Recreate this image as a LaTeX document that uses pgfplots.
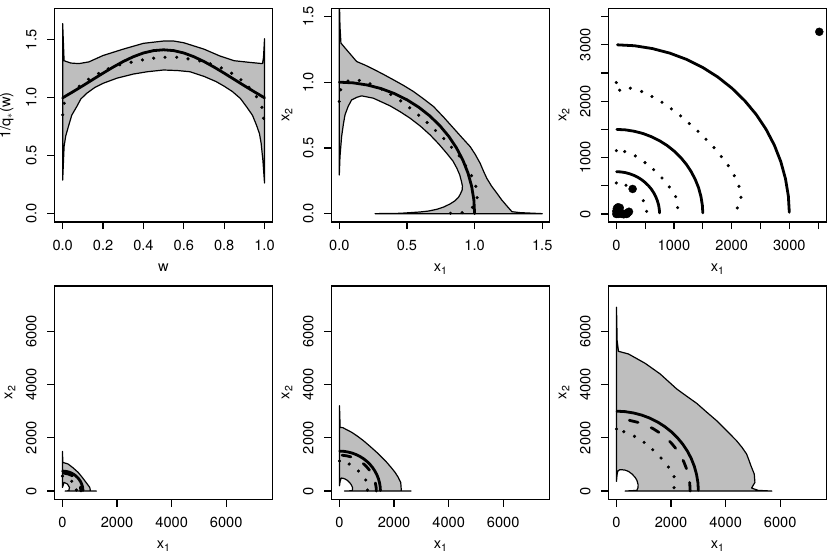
\documentclass[border=0pt]{standalone}
\usepackage{fontspec}
\setmainfont{TeX Gyre Heros}
\usepackage{pgfplots}
\pgfplotsset{compat=1.18}
\usepackage{pgfplotstable}

\definecolor{regiongray}{gray}{0.745}
\newcommand{\rfont}{\fontsize{14.6}{16}\selectfont}
\newcommand{\xone}{x\raisebox{-3pt}{\fontsize{10.5}{10}\selectfont 1}}
\newcommand{\xtwo}{x\raisebox{-3pt}{\fontsize{10.5}{10}\selectfont 2}}

\pgfplotstableread{
x y
3000 30
2984 314
2934 624
2853 927
2741 1220
2598 1500
2427 1763
2229 2007
2007 2229
1763 2427
1500 2598
1220 2741
927 2853
624 2934
314 2984
20 3000
}\arcA
\pgfplotstableread{
x y
1500 20
1492 157
1467 312
1427 464
1370 610
1299 750
1214 882
1115 1004
1004 1115
882 1214
750 1299
610 1370
464 1427
312 1467
157 1492
10 1500
}\arcB
\pgfplotstableread{
x y
750 20
746 78
734 156
713 232
685 305
650 375
607 441
557 502
502 557
441 607
375 650
305 685
232 713
156 734
78 746
5 750
}\arcC

\pgfplotsset{
  rbox/.style={
    scale only axis, width=218.3pt, height=213.2pt, anchor=south west,
    axis line style={line width=1.2pt},
    tick style={line width=1.2pt,black},
    tick align=outside, major tick length=7.2pt,
    xtick pos=bottom, ytick pos=left,
    xticklabel style={font=\rfont,yshift=-7.5pt},
    yticklabel style={font=\rfont,rotate=90,anchor=south,yshift=7pt},
    xlabel style={font=\rfont,at={(axis description cs:0.5,0)},anchor=base,yshift=-49pt},
    ylabel style={font=\rfont,at={(axis description cs:0,0.5)},anchor=base,yshift=42pt},
    xlabel=\xone, ylabel=\xtwo,
  },
  bigbox/.style={
    rbox, xmin=-300, xmax=7700, ymin=-310, ymax=7700,
    xtick={0,2000,4000,6000}, ytick={0,2000,4000,6000},
    xticklabels={0,2000,4000,6000}, yticklabels={0,2000,4000,6000},
  },
  region/.style={fill=regiongray, draw=black, line width=1.2pt, line join=round},
  thickline/.style={black, line width=2.8pt, line cap=round},
  dashline/.style={black, line width=2.8pt, line cap=round, dash pattern=on 9pt off 14.2pt},
  dots/.style={only marks, mark=*, mark size=1.4pt, black},
}

\begin{document}
\begin{tikzpicture}[x=1pt,y=1pt]
\useasboundingbox (0,0) rectangle (830,-554);

% w panel
\begin{axis}[rbox, at={(54.3pt,-222pt)},
  xmin=-0.0415, xmax=1.04, ymin=-0.0717, ymax=1.768,
  xtick={0,0.2,0.4,0.6,0.8,1}, xticklabels={0.0,0.2,0.4,0.6,0.8,1.0},
  ytick={0,0.5,1,1.5}, yticklabels={0.0,0.5,1.0,1.5},
  ylabel style={yshift=2pt},
  xlabel={w}, ylabel={1/q$_*$(w)}]
\addplot[region] coordinates {
(0,1.64)(0.003,1.5)(0.007,1.32)(0.04,1.30)(0.08,1.295)(0.13,1.31)(0.2,1.365)(0.3,1.42)(0.4,1.47)
(0.5,1.49)(0.55,1.49)(0.6,1.475)(0.7,1.42)(0.78,1.36)(0.85,1.32)(0.93,1.305)(0.99,1.295)(0.995,1.35)(1,1.51)
(1,0.265)(0.992,0.46)(0.983,0.61)(0.975,0.69)(0.96,0.765)(0.94,0.85)(0.91,0.925)(0.88,0.995)(0.84,1.055)(0.8,1.10)(0.76,1.14)(0.7,1.185)(0.63,1.225)(0.57,1.235)(0.5,1.24)
(0.42,1.225)(0.35,1.205)(0.27,1.17)(0.2,1.125)(0.16,1.09)(0.12,1.04)(0.09,0.99)(0.07,0.925)(0.045,0.85)(0.028,0.75)(0.015,0.67)(0.007,0.58)(0,0.29)} -- cycle;
\addplot[thickline] coordinates {
(0,1)(0.05,1.0512)(0.1,1.1043)(0.15,1.1586)(0.2,1.2127)(0.25,1.2649)(0.3,1.3131)(0.35,1.3545)(0.4,1.3868)(0.45,1.4072)
(0.5,1.4142)(0.55,1.4072)(0.6,1.3868)(0.65,1.3545)(0.7,1.3131)(0.75,1.2649)(0.8,1.2127)(0.85,1.1586)(0.9,1.1043)(0.95,1.0512)(1,1)};
\addplot[dots] coordinates {
(0,0.853)(0.008,0.953)(0.082,1.10)(0.128,1.16)(0.178,1.21)(0.226,1.25)(0.283,1.285)(0.339,1.307)(0.395,1.327)(0.451,1.342)
(0.507,1.35)(0.565,1.35)(0.621,1.336)(0.679,1.319)(0.731,1.293)(0.786,1.258)(0.837,1.212)(0.883,1.155)(0.923,1.091)(0.96,1.01)(0.987,0.918)(0.995,0.823)};
\end{axis}

% unit scale panel
\begin{axis}[rbox, at={(331.3pt,-222pt)},
  xmin=-0.0592, xmax=1.5543, ymin=-0.0635, ymax=1.558,
  xtick={0,0.5,1,1.5}, xticklabels={0.0,0.5,1.0,1.5},
  ytick={0,0.5,1,1.5}, yticklabels={0.0,0.5,1.0,1.5}]
\addplot[region] coordinates {
(0,1.64)(0.005,1.424)(0.012,1.297)(0.054,1.246)(0.128,1.157)(0.19,1.13)(0.25,1.10)(0.325,1.06)(0.4,1.018)(0.475,0.975)(0.548,0.929)(0.62,0.875)(0.696,0.815)(0.77,0.735)(0.844,0.65)(0.905,0.58)
(0.967,0.51)(1.005,0.45)(1.041,0.383)(1.065,0.325)(1.09,0.269)(1.125,0.21)(1.165,0.155)(1.2,0.105)(1.239,0.058)(1.276,0.015)(1.337,0.0076)(1.5,0)
(0.264,0)(0.449,0.0025)(0.597,0.0127)(0.66,0.02)(0.72,0.033)(0.77,0.05)(0.819,0.074)(0.855,0.098)(0.881,0.124)(0.895,0.15)(0.908,0.18)(0.91,0.21)(0.903,0.244)(0.89,0.295)(0.869,0.345)(0.84,0.40)(0.794,0.459)
(0.735,0.53)(0.671,0.599)(0.6,0.665)(0.523,0.726)(0.45,0.775)(0.375,0.82)(0.252,0.878)(0.165,0.896)(0.13,0.885)(0.091,0.865)(0.065,0.815)(0.042,0.751)(0.03,0.68)(0.017,0.586)(0.005,0.434)(0,0.294)} -- cycle;
\addplot[thickline] coordinates {
(1,0)(0.9945,0.1045)(0.9781,0.2079)(0.9511,0.3090)(0.9135,0.4067)(0.8660,0.5)(0.8090,0.5878)(0.7431,0.6691)(0.6691,0.7431)
(0.5878,0.8090)(0.5,0.8660)(0.4067,0.9135)(0.3090,0.9511)(0.2079,0.9781)(0.1045,0.9945)(0,1)};
\addplot[dots] coordinates {
(0,0.853)(0.01,0.942)(0.064,1.008)(0.148,1.013)(0.227,0.987)(0.313,0.947)(0.38,0.906)(0.454,0.858)(0.52,0.805)(0.587,0.749)
(0.649,0.693)(0.711,0.632)(0.772,0.571)(0.829,0.505)(0.886,0.439)(0.933,0.365)(0.977,0.289)(1.009,0.208)(1.019,0.122)(0.984,0.048)(0.908,0.008)(0.822,0.003)};
\end{axis}

% data points panel
\begin{axis}[rbox, at={(608.3pt,-222pt)},
  xmin=-139, xmax=3647, ymin=-142, ymax=3639,
  xtick={0,500,1000,1500,2000,2500,3000,3500}, xticklabels={0,,1000,,2000,,3000,},
  ytick={0,500,1000,1500,2000,2500,3000,3500}, yticklabels={0,,1000,,2000,,3000,}]
\addplot[thickline] table {\arcA};
\addplot[thickline] table {\arcB};
\addplot[thickline] table {\arcC};
\addplot[dots] coordinates {
(0,2331)(58,2195)(243,2231)(439,2172)(618,2083)(792,1982)(954,1864)(1116,1740)(1266,1604)(1416,1467)
(1555,1325)(1694,1178)(1821,1018)(1942,858)(2046,680)(2127,491)(2162,296)(2098,107)};
\addplot[dots] coordinates {
(0,1124)(145,1107)(329,1030)(497,911)(647,787)(792,639)(919,479)(1029,308)(1063,112)};
\addplot[dots] coordinates {(0,550)(168,509)(468,237)(526,47)};
\addplot[only marks, mark=*, mark size=4pt, black] coordinates {
(3520,3231)(283,444)(0,0)(0,50)(10,100)(30,120)(60,110)(60,50)(70,20)(100,0)(130,-5)(170,10)(200,20)(220,40)(180,0)(30,0)(60,10)};
\end{axis}

% bottom row
\begin{axis}[bigbox, at={(54.3pt,-499.3pt)}]
\addplot[region] coordinates {
(0,1491)(12,1078)(207,1015)(390,870)(573,702)(700,545)(817,388)(910,260)(1000,138)(1024,0)(1244,0)
(98,0)(232,12)(256,138)(183,263)(61,326)(0,138)} -- cycle;
\addplot[thickline] table {\arcC};
\addplot[dashline] coordinates {(47,673)(209,642)(338,585)(452,502)(546,397)(617,275)(660,140)(675,0)};
\addplot[dots] coordinates {(0,560)(340,370)(510,40)};
\end{axis}

\begin{axis}[bigbox, at={(331.3pt,-499.3pt)}]
\addplot[region] coordinates {
(0,3208)(24,2393)(122,2381)(451,2205)(660,2060)(878,1892)(1120,1680)(1366,1454)(1550,1270)(1732,1078)(1890,890)(2037,702)(2150,520)(2244,326)(2268,0)(2622,0)
(183,0)(463,12)(480,70)(476,138)(430,240)(366,326)(290,400)(207,451)(130,480)(61,489)(20,350)(0,200)} -- cycle;
\addplot[thickline] table {\arcB};
\addplot[dashline] coordinates {
(94,1347)(281,1320)(417,1284)(549,1233)(675,1169)(794,1092)(903,1003)(1003,903)(1092,794)(1169,675)(1233,549)(1284,417)(1320,281)(1343,141)(1350,0)};
\addplot[dots] coordinates {(0,1128)(354,1015)(695,752)(963,414)(1024,38)};
\end{axis}

\begin{axis}[bigbox, at={(608.3pt,-499.3pt)}]
\addplot[region] coordinates {
(0,6905)(24,5650)(73,5250)(439,5150)(1049,4800)(1600,4400)(2207,3835)(2570,3565)(2939,3296)(3300,2970)(3670,2644)(4035,2270)(4400,1892)(4600,1640)(4768,1391)(4850,1170)(4927,952)
(5049,639)(5073,326)(4951,113)(5195,25)(5695,0)
(317,0)(744,25)(790,130)(793,238)(750,400)(683,514)(570,640)(439,739)(320,785)(195,802)(120,800)(61,764)(30,690)(12,514)(0,363)} -- cycle;
\addplot[thickline] table {\arcA};
\addplot[dashline] coordinates {
(469,2659)(834,2568)(1098,2467)(1350,2338)(1587,2184)(1807,2006)(2006,1807)(2184,1587)(2338,1350)(2467,1098)(2568,834)(2641,561)(2685,282)(2700,0)};
\addplot[dots] coordinates {(0,2331)(268,2230)(659,2055)(1012,1830)(1329,1554)(1634,1240)(1902,902)(2110,539)(2110,125)};
\end{axis}
\end{tikzpicture}
\end{document}
